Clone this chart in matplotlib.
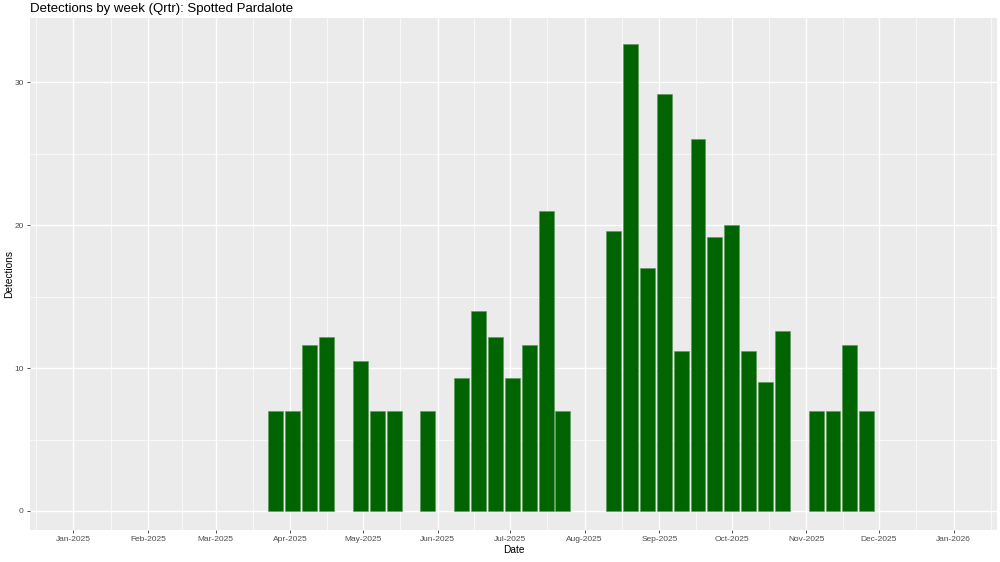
import numpy as np
import matplotlib.pyplot as plt
import matplotlib.dates as mdates

# weekly detections (week start dates) - Spotted Pardalote
weeks = ['2025-03-26', '2025-04-02', '2025-04-09', '2025-04-16',
         '2025-04-30', '2025-05-07', '2025-05-14',
         '2025-05-28',
         '2025-06-11', '2025-06-18', '2025-06-25', '2025-07-02', '2025-07-09',
         '2025-07-16', '2025-07-23',
         '2025-08-13', '2025-08-20', '2025-08-27', '2025-09-03', '2025-09-10',
         '2025-09-17', '2025-09-24', '2025-10-01', '2025-10-08', '2025-10-15',
         '2025-10-22',
         '2025-11-05', '2025-11-12', '2025-11-19', '2025-11-26']
detections = [7.0, 7.0, 11.6, 12.2,
              10.5, 7.0, 7.0,
              7.0,
              9.3, 14.0, 12.2, 9.3, 11.6, 21.0, 7.0,
              19.6, 32.7, 17.0, 29.2, 11.2, 26.0, 19.2, 20.0, 11.2, 9.0,
              12.6,
              7.0, 7.0, 11.6, 7.0]
month_ticks = ['2025-01-01', '2025-02-01', '2025-03-01', '2025-04-01',
               '2025-05-01', '2025-06-01', '2025-07-01', '2025-08-01',
               '2025-09-01', '2025-10-01', '2025-11-01', '2025-12-01',
               '2026-01-01']
y_ticks = [0, 10, 20, 30]

plt.rcParams['font.family'] = ['Liberation Sans', 'DejaVu Sans']

x = mdates.datestr2num(weeks)
mt = mdates.datestr2num(month_ticks)

fig = plt.figure(figsize=(10, 5.62), dpi=100)
ax = fig.add_axes([0.030, 0.057, 0.967, 0.911])
ax.set_facecolor('#EBEBEB')

ax.bar(x, detections, width=6.2, color='#006400', edgecolor='#5a965a',
       linewidth=0.4, zorder=3)

# minor grid halfway between majors, like ggplot
minor_x = np.concatenate([[mt[0] - 15.5], (mt[:-1] + mt[1:]) / 2, [mt[-1] + 15.5]])
minor_y = [-5, 5, 15, 25, 35]
for v in minor_x:
    ax.axvline(v, color='white', lw=0.5, zorder=1)
for v in minor_y:
    ax.axhline(v, color='white', lw=0.5, zorder=1)
for v in mt:
    ax.axvline(v, color='white', lw=1.0, zorder=1)
for v in y_ticks:
    ax.axhline(v, color='white', lw=1.0, zorder=1)

ax.set_xlim(mdates.datestr2num('2024-12-14'), mdates.datestr2num('2026-01-19'))
ax.set_ylim(-1.33, 34.5)
ax.set_xticks(mt)
ax.set_xticklabels([mdates.num2date(v).strftime('%b-%Y') for v in mt])
ax.set_yticks(y_ticks)

for s in ax.spines.values():
    s.set_visible(False)
ax.tick_params(axis='both', labelsize=6, colors='#333333', labelcolor='#4D4D4D',
               length=2.5, width=0.6, pad=2)

ax.set_xlabel('Date', fontsize=7.3, labelpad=1)
fig.text(0.009, 0.512, 'Detections', fontsize=7.3, rotation=90,
         ha='center', va='center')
fig.text(0.030, 0.984, 'Detections by week (Qrtr): Spotted Pardalote',
         fontsize=9.5, ha='left', va='center')

fig.savefig('out.png', dpi=100, facecolor='white')
